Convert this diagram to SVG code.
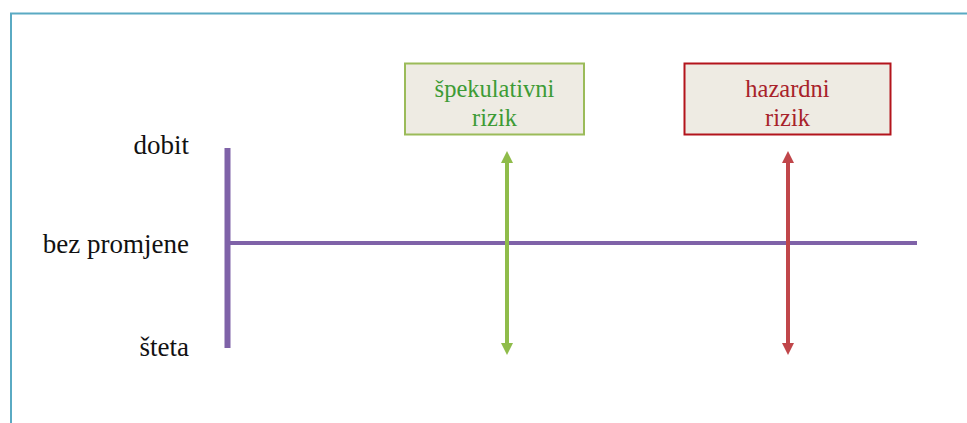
<svg xmlns="http://www.w3.org/2000/svg" width="967" height="423" viewBox="0 0 967 423">
<style>
text{font-family:'Liberation Serif','Times New Roman',serif}
.lbl{fill:#111;text-anchor:end;font-size:27px}
.bt{text-anchor:middle;font-size:24.5px}
</style>
<defs>
<marker id="ag" viewBox="0 0 10 10" refX="5" refY="5" markerWidth="3.2" markerHeight="3" orient="auto-start-reverse"><path d="M0,0 L10,5 L0,10 z" fill="#8fbc4a"/></marker>
<marker id="ar" viewBox="0 0 10 10" refX="5" refY="5" markerWidth="3.2" markerHeight="3" orient="auto-start-reverse"><path d="M0,0 L10,5 L0,10 z" fill="#c0464a"/></marker>
</defs>
<rect width="967" height="423" fill="#fff"/>
<rect x="11" y="13.5" width="970" height="430" fill="none" stroke="#5aaac3" stroke-width="2"/>
<g id="axis-labels">
<text class="lbl" x="189" y="154">dobit</text>
<text class="lbl" x="189" y="253">bez promjene</text>
<text class="lbl" x="189" y="356">šteta</text>
</g>
<g id="connectors">
<line x1="227.5" y1="148" x2="227.5" y2="348" stroke="#7f62a8" stroke-width="6"/>
<line x1="226" y1="243" x2="917" y2="243" stroke="#7f62a8" stroke-width="4"/>
<line x1="507" y1="157" x2="507" y2="349" stroke="#8fbc4a" stroke-width="4" marker-start="url(#ag)" marker-end="url(#ag)"/>
<line x1="788" y1="157" x2="788" y2="349" stroke="#c0464a" stroke-width="4" marker-start="url(#ar)" marker-end="url(#ar)"/>
</g>
<g id="spekulativni">
<rect x="405" y="63.5" width="179" height="71" fill="#eeebe3" stroke="#9bbb59" stroke-width="2"/>
<text class="bt" x="494.5" y="97" fill="#3d9b35">špekulativni</text>
<text class="bt" x="494.5" y="126" fill="#3d9b35">rizik</text>
</g>
<g id="hazardni">
<rect x="684.5" y="63.5" width="206" height="71" fill="#eeebe3" stroke="#b3141c" stroke-width="2"/>
<text class="bt" x="787.5" y="97" fill="#a8222a">hazardni</text>
<text class="bt" x="787.5" y="126" fill="#a8222a">rizik</text>
</g>
</svg>
